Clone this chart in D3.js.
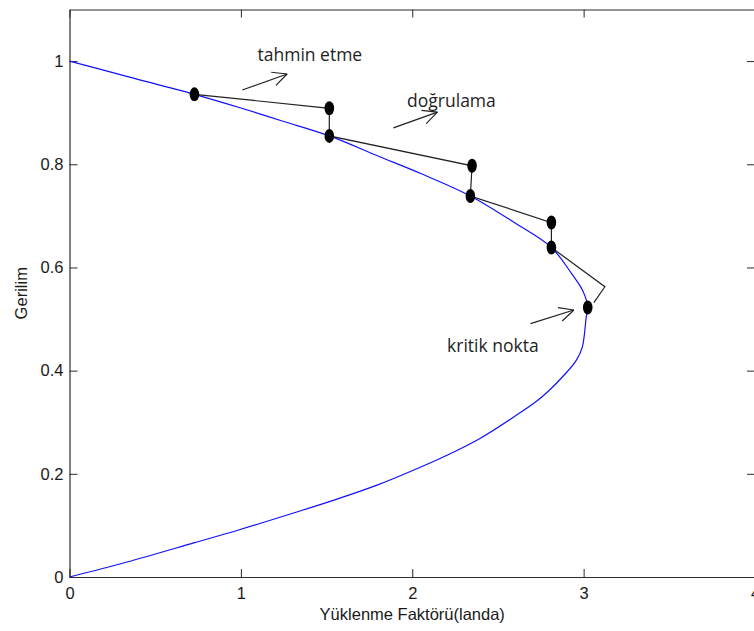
<!DOCTYPE html>
<html>
<head>
<meta charset="utf-8">
<script src="https://cdn.jsdelivr.net/npm/d3@7"></script>
<style>
  body { margin: 0; background: #fff; }
  svg { display: block; }
  .axis text { font-family: "Liberation Sans", Arial, sans-serif; font-size: 16.5px; fill: #1a1a1a; }
  .axis path, .axis line { stroke: #2b2b2b; }
  .note { font-family: "Open Sans", sans-serif; font-size: 17.5px; fill: #1e1e1e; }
</style>
</head>
<body>
<div id="chart"></div>
<script>
// P-V nose curve (load factor vs voltage)
const curveLambda = [0, 0.35, 0.729, 1.0, 1.25, 1.516, 1.8, 2.05, 2.339, 2.6, 2.812, 2.93, 2.995, 3.024,
  3.015, 2.992, 2.957, 2.888, 2.8, 2.723, 2.592, 2.398, 2.203, 1.989, 1.794, 1.561, 1.307, 0.996, 0.725, 0.335, 0];
const curveV = [1.0, 0.969, 0.9355, 0.909, 0.883, 0.855, 0.816, 0.782, 0.7386, 0.686, 0.6387, 0.588, 0.555, 0.5225,
  0.503, 0.445, 0.42, 0.392, 0.362, 0.34, 0.31, 0.269, 0.236, 0.2045, 0.178, 0.151, 0.124, 0.092, 0.066, 0.029, 0];

// predictor / corrector steps (black path and dots)
const stepLambda = [0.729, 1.516, 1.516, 2.349, 2.339, 2.812, 2.812, 3.124, 3.06];
const stepV = [0.9355, 0.9085, 0.855, 0.797, 0.7386, 0.687, 0.6387, 0.5626, 0.532];
const dotLambda = [0.729, 1.516, 1.516, 2.349, 2.339, 2.812, 2.812, 3.024];
const dotV = [0.9355, 0.9085, 0.855, 0.797, 0.7386, 0.687, 0.6387, 0.5225];

// annotations
const noteText = ["tahmin etme", "doğrulama", "kritik nokta"];
const noteLambda = [1.097, 1.97, 2.203];
const noteV = [1.0, 0.911, 0.4368];
const arrowFrom = [[1.008, 0.944], [1.89, 0.8706], [2.69, 0.491]];
const arrowTo = [[1.27, 0.975], [2.147, 0.901], [2.943, 0.5175]];

const xTicks = [0, 1, 2, 3, 4];
const yTicks = [0, 0.2, 0.4, 0.6, 0.8, 1];

const width = 754, height = 631;
const plotLeft = 69.5, plotRight = 755, plotTop = 9.5, plotBottom = 577;

const svg = d3.select("#chart").append("svg")
  .attr("width", width)
  .attr("height", height);

const x = d3.scaleLinear().domain([0, 4]).range([plotLeft, plotRight]);
const y = d3.scaleLinear().domain([0, 1.1]).range([plotBottom, plotTop]);

// axes box, MATLAB style ticks pointing inward
svg.append("g").attr("class", "axis")
  .attr("transform", `translate(0,${plotBottom})`)
  .call(d3.axisBottom(x).tickValues(xTicks).tickFormat(d3.format("~g")).tickSize(-8).tickSizeOuter(0).tickPadding(10));
svg.append("g").attr("class", "axis")
  .attr("transform", `translate(0,${plotTop})`)
  .call(d3.axisTop(x).tickValues(xTicks).tickFormat("").tickSize(-8).tickSizeOuter(0));
svg.append("g").attr("class", "axis")
  .attr("transform", `translate(${plotLeft},0)`)
  .call(d3.axisLeft(y).tickValues(yTicks).tickFormat(d3.format("~g")).tickSize(-8).tickSizeOuter(0).tickPadding(6));
svg.append("g").attr("class", "axis")
  .attr("transform", `translate(${plotRight},0)`)
  .call(d3.axisRight(y).tickValues(yTicks).tickFormat("").tickSize(-8).tickSizeOuter(0));
svg.selectAll(".axis .domain").attr("stroke-width", 1.2);

// axis titles
svg.append("text")
  .attr("x", (plotLeft + plotRight) / 2).attr("y", 620)
  .attr("text-anchor", "middle")
  .style("font-family", "'Liberation Sans', Arial, sans-serif")
  .style("font-size", "16.5px").style("fill", "#1a1a1a")
  .text("Yüklenme Faktörü(landa)");
svg.append("text")
  .attr("transform", `translate(26.5,${(plotTop + plotBottom) / 2}) rotate(-90)`)
  .attr("text-anchor", "middle")
  .style("font-family", "'Liberation Sans', Arial, sans-serif")
  .style("font-size", "16.5px").style("fill", "#1a1a1a")
  .text("Gerilim");

// blue curve
const curvePts = curveLambda.map((l, i) => [l, curveV[i]]);
const smooth = d3.line().x(d => x(d[0])).y(d => y(d[1])).curve(d3.curveCatmullRom.alpha(0.5));
const line = d3.line().x(d => x(d[0])).y(d => y(d[1]));
svg.append("path")
  .datum(curvePts)
  .attr("d", smooth)
  .attr("fill", "none")
  .attr("stroke", "#1010ff")
  .attr("stroke-width", 1.2);

// predictor-corrector path
const stepPts = stepLambda.map((l, i) => [l, stepV[i]]);
svg.append("path")
  .datum(stepPts)
  .attr("d", line)
  .attr("fill", "none")
  .attr("stroke", "#222")
  .attr("stroke-width", 1.2);

svg.selectAll(".dot")
  .data(dotLambda.map((l, i) => [l, dotV[i]]))
  .join("ellipse")
  .attr("class", "dot")
  .attr("cx", d => x(d[0]))
  .attr("cy", d => y(d[1]))
  .attr("rx", 4.8)
  .attr("ry", 7)
  .attr("fill", "#000");

// arrows with open heads
const arrows = svg.append("g").attr("stroke", "#222").attr("stroke-width", 1.2).attr("fill", "none");
arrowFrom.forEach((f, i) => {
  const t = arrowTo[i];
  const x0 = x(f[0]), y0 = y(f[1]), x1 = x(t[0]), y1 = y(t[1]);
  const a = Math.atan2(y1 - y0, x1 - x0);
  const len = 16, spread = 0.45;
  arrows.append("line").attr("x1", x0).attr("y1", y0).attr("x2", x1).attr("y2", y1);
  [-spread, spread].forEach(s => {
    arrows.append("line")
      .attr("x1", x1).attr("y1", y1)
      .attr("x2", x1 - len * Math.cos(a + s))
      .attr("y2", y1 - len * Math.sin(a + s));
  });
});

svg.selectAll(".note")
  .data(noteText)
  .join("text")
  .attr("class", "note")
  .attr("x", (d, i) => x(noteLambda[i]))
  .attr("y", (d, i) => y(noteV[i]))
  .text(d => d);
</script>
</body>
</html>
